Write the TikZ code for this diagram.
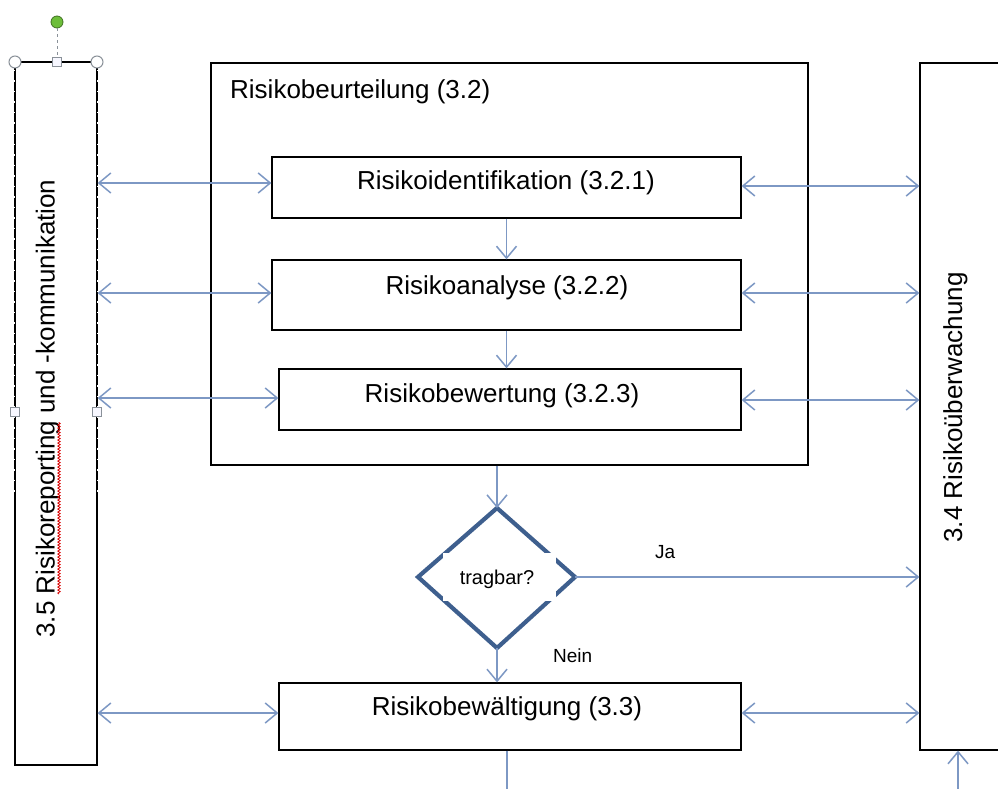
\documentclass[tikz,border=0pt]{standalone}
\usepackage{fontspec}
\setmainfont{Liberation Sans}
\usetikzlibrary{arrows.meta,decorations.pathmorphing,calc}
\definecolor{arrc}{HTML}{7D98C4}
\definecolor{diac}{HTML}{3E5F8E}
\definecolor{handc}{HTML}{8A9199}
\definecolor{greenh}{HTML}{6DBE3A}
\begin{document}
\begin{tikzpicture}[x=1pt,y=-1pt,
  box/.style={draw=black, line width=1.3pt, rectangle, inner sep=0pt},
  lbl/.style={font=\fontsize{26}{30}\selectfont, inner sep=0pt},
  small/.style={font=\fontsize{19}{22}\selectfont, inner sep=0pt},
  dbl/.style={draw=arrc, line width=1.5pt, {Straight Barb[length=12pt,width=20pt]}-{Straight Barb[length=12pt,width=20pt]}},
  sgl/.style={draw=arrc, line width=1.5pt, -{Straight Barb[length=12pt,width=20pt]}},
  plain/.style={draw=arrc, line width=1.5pt},
  roundh/.style={circle, draw=handc, fill=white, line width=1pt, minimum size=12pt, inner sep=0pt},
  squareh/.style={rectangle, draw=handc, fill=blue!3, line width=1pt, minimum size=9pt, inner sep=0pt}
]
\useasboundingbox (0,0) rectangle (998,789);
\clip (0,0) rectangle (998,789);
\fill[white] (0,0) rectangle (998,789);

% boxes
\node[box, minimum width=82pt, minimum height=703pt] (lbox) at (56,413.5) {};
\node[box, minimum width=90pt, minimum height=687pt] (rbox) at (965,406.5) {};
\node[box, minimum width=597pt, minimum height=402pt] (outer) at (509.5,264) {};
\node[box, minimum width=469pt, minimum height=61pt] (ident) at (506.5,187.5) {};
\node[box, minimum width=469pt, minimum height=70pt] (anal) at (506.5,295) {};
\node[box, minimum width=462pt, minimum height=61pt] (bew) at (510,399.5) {};
\node[box, minimum width=462pt, minimum height=67pt] (bewa) at (510,716.5) {};

% selection look on upper part of the left box
\draw[white, line width=1.6pt, dash pattern=on 1.5pt off 9pt] (lbox.north west |- 0,70) -- (lbox.north west |- 0,500);
\draw[white, line width=1.6pt, dash pattern=on 1.5pt off 9pt] (lbox.north east |- 0,70) -- (lbox.north east |- 0,500);

% texts
\node[lbl, anchor=base west] (tbeur) at (230,99) {Risikobeurteilung (3.2)};
\node[lbl, anchor=base] (tident) at (506,189) {Risikoidentifikation (3.2.1)};
\node[lbl, anchor=base] (tanal) at (507,294) {Risikoanalyse (3.2.2)};
\node[lbl, anchor=base] (tbew) at (502,402) {Risikobewertung (3.2.3)};
\node[lbl, anchor=base] (tbewa) at (507,715) {Risikobewältigung (3.3)};
\node[lbl, rotate=90] (tleft) at (48,408.5) {3.5 Risikoreporting und -kommunikation};
\node[lbl, rotate=90] (tright) at (955.5,407.5) {3.4 Risikoüberwachung};
\draw[red!85!black, line width=0.8pt, decorate, decoration={snake, amplitude=1.2pt, segment length=3pt}] (59,594) -- (59,422);

% decision diamond
\coordinate (dt) at (497,508);
\coordinate (dr) at (575,577);
\coordinate (db) at (497,648);
\coordinate (dl) at (418,577);
\draw[diac, line width=4.2pt, line join=miter] (dt) -- (dr) -- (db) -- (dl) -- cycle;
\node[fill=white, minimum width=113pt, minimum height=48pt, inner sep=0pt] (dec) at (499.5,577) {};
\node[font=\fontsize{20}{23}\selectfont, inner sep=0pt, anchor=base] (tdec) at (497,584) {tragbar?};

% connectors
\draw[dbl] (lbox.east |- 0,183) -- (ident.west |- 0,183);
\draw[dbl] (ident.east |- 0,186) -- (rbox.west |- 0,186);
\draw[dbl] (lbox.east |- 0,293) -- (anal.west |- 0,293);
\draw[dbl] (anal.east |- 0,293) -- (rbox.west |- 0,293);
\draw[dbl] (lbox.east |- 0,398) -- (bew.west |- 0,398);
\draw[dbl] (bew.east |- 0,400) -- (rbox.west |- 0,400);
\draw[sgl] (ident.south) -- (anal.north);
\draw[sgl] (anal.south) -- (anal.south |- bew.north);
\draw[sgl] (outer.south -| dt) -- (dt);
\draw[sgl] (db) -- (db |- bewa.north);
\draw[sgl] (dr) -- (rbox.west |- dr);
\node[small, anchor=base west] (tja) at (655,558) {Ja};
\node[small, anchor=base west] (tnein) at (553,662) {Nein};
\draw[dbl] (lbox.east |- 0,713) -- (bewa.west |- 0,713);
\draw[dbl] (bewa.east |- 0,713) -- (rbox.west |- 0,713);
\coordinate (botA) at (507,795);
\coordinate (botB) at (958,795);
\draw[plain] (bewa.south -| botA) -- (botA);
\draw[sgl] (botB) -- (botB |- rbox.south);

% selection handles
\node[roundh] (hnw) at (15,62) {};
\node[roundh] (hne) at (97,62) {};
\node[squareh] (hn) at (57,62) {};
\node[squareh] (hw) at (15,412) {};
\node[squareh] (he) at (97,412) {};
\node[circle, draw=greenh!60!black, fill=greenh, line width=0.8pt, minimum size=12pt, inner sep=0pt] (hrot) at (57,22) {};
\draw[handc, line width=1pt, dashed] (hrot) -- (hn);
\end{tikzpicture}
\end{document}
